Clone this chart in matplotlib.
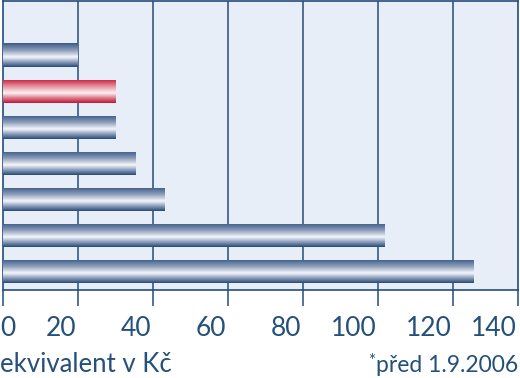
import numpy as np
import matplotlib
matplotlib.use("Agg")
import matplotlib.pyplot as plt
from matplotlib.colors import LinearSegmentedColormap
from matplotlib import font_manager as fm
import matplotlib.transforms as mtransforms

# ---- data (top to bottom) ----
categories = ["Položka 1", "Položka 2", "Položka 3", "Položka 4", "Položka 5", "Položka 6", "Položka 7"]
values = [20, 30, 30, 35.3, 43, 101.7, 125.4]
highlight = [False, True, False, False, False, False, False]
tick_values = [0, 20, 40, 60, 80, 100, 120, 140]
tick_labels = ["0", "20", "40", "60", "80", "100", "120", "140"]
xlabel_text = "ekvivalent v Kč"
note_text = "před 1.9.2006"

FONT = "Lato"
TXT = "#24507a"
LINE = "#234d78"
BG = "#e8eef7"

blue_cmap = LinearSegmentedColormap.from_list("b", [(0, "#3b5a86"), (0.3, "#8c9dbb"), (0.58, "#f6f7fb"), (0.8, "#8599b8"), (1, "#264a75")])
red_cmap = LinearSegmentedColormap.from_list("r", [(0, "#c41c3b"), (0.3, "#e8909c"), (0.58, "#fdf2f2"), (0.8, "#de7384"), (1, "#bf1735")])

W, H = 520, 378
fig = plt.figure(figsize=(W / 100, H / 100), dpi=100)
left_px, right_px, top_px, bot_px = 2.7, 517.5, 0.7, 290.0
ax = fig.add_axes([left_px / W, 1 - bot_px / H, (right_px - left_px) / W, (bot_px - top_px) / H])
ax.set_facecolor(BG)

xmax = (right_px - left_px) / 3.75
n = len(values)
ypos = np.arange(1, n + 1)
bh = 0.64
bars = ax.barh(ypos, values, height=bh, color="none", edgecolor="none", zorder=3)
grad = np.linspace(0, 1, 256).reshape(-1, 1)
for b, v, y, hl in zip(bars, values, ypos, highlight):
    im = ax.imshow(grad, cmap=red_cmap if hl else blue_cmap, aspect="auto",
                   extent=(0, v, y + bh / 2, y - bh / 2), origin="upper",
                   interpolation="bilinear", zorder=3)
    im.set_clip_path(b)

ax.set_xlim(0, xmax)
ax.set_ylim(n + 0.5, -0.5)

for t in tick_values[1:-1]:
    ax.axvline(t, color=LINE, lw=1.1, zorder=1)
for s in ax.spines.values():
    s.set_color(LINE)
    s.set_linewidth(1.2)

ax.set_yticks([])
tick_pos = [t if t <= xmax else xmax for t in tick_values]
ax.set_xticks(tick_pos)
ax.set_xticklabels([])
ax.tick_params(axis="x", direction="out", length=11.5, width=1.1, color=LINE)

trans = ax.get_xaxis_transform()
fs = 19
ylab = -(336 - bot_px) / (bot_px - top_px)
for t, lab in zip(tick_pos, tick_labels):
    if t == 0:
        fig.text(0.5 / W, 1 - 336 / H, lab, ha="left", va="baseline", fontsize=fs, color=TXT, family=FONT)
    else:
        ax.text(t - 0.3, ylab, lab, transform=trans, ha="right", va="baseline",
                fontsize=fs, color=TXT, family=FONT)

fig.text(0 / W, 1 - 372 / H, xlabel_text, ha="left", va="baseline", fontsize=18.5, color=TXT, family=FONT)
note = fig.text(518 / W, 1 - 372 / H, note_text, ha="right", va="baseline", fontsize=16.5, color=TXT, family=FONT)
fig.canvas.draw()
bb = note.get_window_extent()
fig.text((bb.x0 - 1) / W, 1 - 366 / H, "*", ha="right", va="baseline", fontsize=12, color=TXT, family=FONT)

fig.savefig("out.png", dpi=100, facecolor="white")
